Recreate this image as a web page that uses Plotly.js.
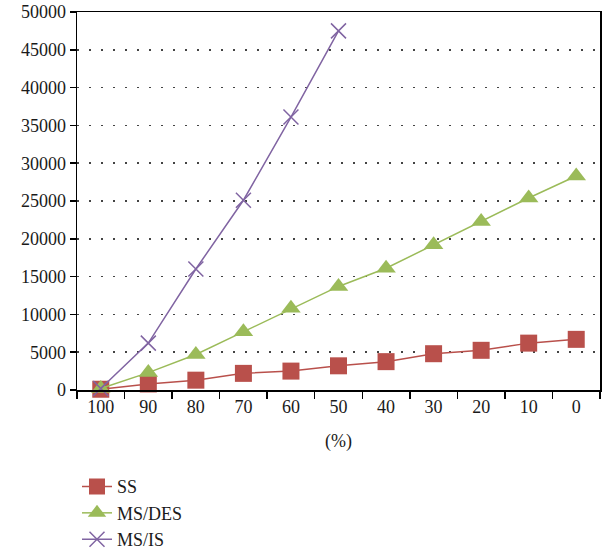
<!DOCTYPE html>
<html>
<head>
<meta charset="utf-8">
<script src="https://cdn.plot.ly/plotly-3.0.1.min.js"></script>
<style>html,body{margin:0;padding:0;background:#fff;}#chart{width:605px;height:556px;}</style>
</head>
<body>
<div id="chart"></div>
<script>
const categories = ['100','90','80','70','60','50','40','30','20','10','0'];
const ssValues = [100, 800, 1300, 2200, 2500, 3200, 3750, 4800, 5250, 6200, 6700];
const desValues = [200, 2300, 4700, 7700, 10800, 13700, 16100, 19200, 22300, 25400, 28300];
const isCategories = ['100','90','80','70','60','50'];
const isValues = [200, 6200, 16000, 25100, 36100, 47500];
const yTicks = [0,5000,10000,15000,20000,25000,30000,35000,40000,45000,50000];

const serif = 'Liberation Serif, serif';
const traces = [
  {x: categories, y: ssValues, name: 'SS', type: 'scatter', mode: 'lines+markers', cliponaxis: false,
   line: {color: '#b9504b', width: 1.5}, marker: {symbol: 'square', size: 17, color: '#b9504b'}},
  {x: categories, y: desValues, name: 'MS/DES', type: 'scatter', mode: 'lines+markers', cliponaxis: false,
   line: {color: '#9bbb59', width: 1.5}, marker: {symbol: 'triangle-up', size: 17, color: '#9bbb59'}},
  {x: isCategories, y: isValues, name: 'MS/IS', type: 'scatter', mode: 'lines+markers', cliponaxis: false,
   line: {color: '#8064a2', width: 1.5}, marker: {symbol: 'x-thin', size: 15, color: '#8064a2', line: {color: '#8064a2', width: 1.5}}}
];
const layout = {
  width: 605, height: 556,
  margin: {l: 77, r: 5, t: 12, b: 166, autoexpand: false},
  paper_bgcolor: '#fff', plot_bgcolor: '#fff',
  font: {family: serif, size: 18, color: '#1a1a1a'},
  showlegend: true,
  legend: {x: 0.0, xanchor: 'left', y: -0.207, yanchor: 'top', orientation: 'v', font: {family: serif, size: 18, color: '#1a1a1a'}, tracegroupgap: 0},
  xaxis: {type: 'category', categoryorder: 'array', categoryarray: categories, automargin: false,
    range: [-0.5, 10.5], showline: true, linecolor: '#000', linewidth: 1.5, mirror: true,
    ticks: 'outside', tickson: 'boundaries', ticklen: 7, tickcolor: '#000', tickwidth: 1.5,
    showgrid: false, zeroline: false,
    tickfont: {family: serif, size: 18},
    title: {text: '(%)', font: {family: serif, size: 18}, standoff: 18}},
  yaxis: {range: [0, 50000], tickvals: yTicks, ticktext: yTicks.map(String), automargin: false,
    showline: true, linecolor: '#000', linewidth: 1.5, mirror: true,
    ticks: 'outside', ticklen: 6, tickcolor: '#000', tickwidth: 1.5,
    showgrid: true, gridcolor: '#444', griddash: '1.5px,10.5px', gridwidth: 1.5, zeroline: false,
    tickfont: {family: serif, size: 18}}
};
Plotly.newPlot('chart', traces, layout, {displayModeBar: false, staticPlot: true});
</script>
</body>
</html>
